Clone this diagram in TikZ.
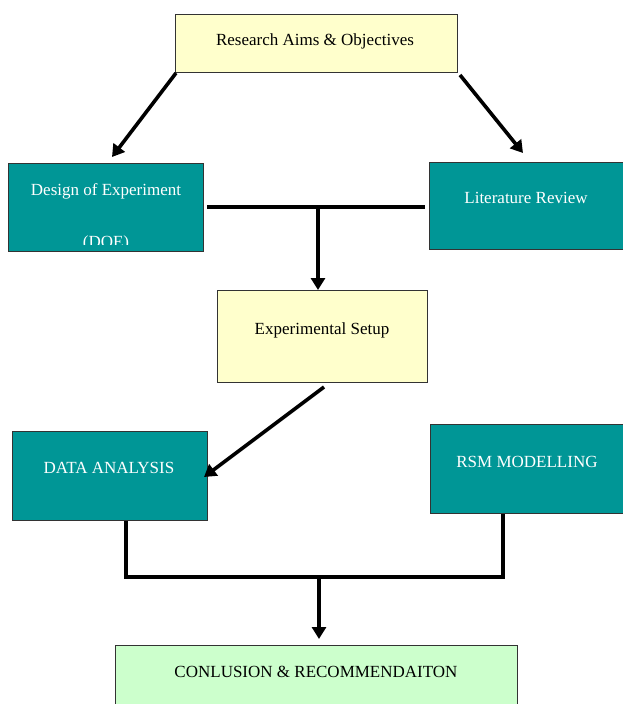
\documentclass[tikz,border=0pt]{standalone}
\usepackage{fontspec}
\setmainfont{Liberation Serif}
\usetikzlibrary{arrows.meta}
\definecolor{tealbox}{RGB}{0,150,150}
\definecolor{paleyellow}{RGB}{255,255,204}
\definecolor{palegreen}{RGB}{204,255,204}
\begin{document}
\begin{tikzpicture}[x=1pt,y=-1pt,
  box/.style={draw=black!80, line width=1.3pt, inner sep=0pt, anchor=north west},
  ybox/.style={box, fill=paleyellow},
  tbox/.style={box, fill=tealbox},
  gbox/.style={box, fill=palegreen},
  lbl/.style={font=\fontsize{17}{20}\selectfont, text height=11.5pt, text depth=0pt, inner sep=0pt},
  wlbl/.style={lbl, text=white},
  conn/.style={line width=3.6pt, black},
  arr/.style={conn, -{Triangle[length=12pt,width=14pt]}}]
\useasboundingbox (0,0) rectangle (623,704);
\clip (0,0) rectangle (623,704);
% boxes
\node[ybox, minimum width=282pt, minimum height=58pt] (aims) at (175,14) {};
\node[tbox, minimum width=195pt, minimum height=88pt] (doe) at (8,163) {};
\node[tbox, minimum width=210pt, minimum height=87pt] (lit) at (429,162) {};
\node[ybox, minimum width=210pt, minimum height=92pt] (exp) at (217,290) {};
\node[tbox, minimum width=195pt, minimum height=89pt] (da) at (12,431) {};
\node[tbox, minimum width=210pt, minimum height=89pt] (rsm) at (430,424) {};
\node[gbox, minimum width=402pt, minimum height=80pt] (conc) at (115,645) {};
% labels
\node[lbl] (taims) at (315,40) {Research Aims \& Objectives};
\node[wlbl] (tdoe) at (106,189.5) {Design of Experiment};
\begin{scope}
  \clip (9,164) rectangle (202,244);
  \node[wlbl] (tdoe2) at (106,241.5) {(DOE)};
\end{scope}
\node[wlbl] (tlit) at (526,198) {Literature Review};
\node[lbl] (texp) at (322,329) {Experimental Setup};
\node[wlbl] (tda) at (109,468) {DATA ANALYSIS};
\node[wlbl] (trsm) at (527,462) {RSM MODELLING};
\node[lbl] (tconc) at (316,672) {CONLUSION \& RECOMMENDAITON};
% connector points
\coordinate (a1) at (176,73);
\coordinate (a1t) at (112,157);
\coordinate (a2) at (460,75);
\coordinate (a2t) at (523,153);
\coordinate (hl) at (207,207);
\coordinate (hr) at (425,207);
\coordinate (hm) at (318,207);
\coordinate (e1) at (324,387);
\coordinate (e1t) at (204,477);
\coordinate (bl) at (126,577);
\coordinate (br) at (503,577);
\coordinate (bm) at (319,577);
\coordinate (bmt) at (319,639);
% connectors
\draw[arr] (a1) -- (a1t);
\draw[arr] (a2) -- (a2t);
\draw[conn] (hl) -- (hr);
\draw[arr] (hm) -- (hm |- exp.north);
\draw[arr] (e1) -- (e1t);
\draw[conn] (da.south -| bl) -- (bl) -- (br) -- (rsm.south -| br);
\draw[arr] (bm) -- (bmt);
\end{tikzpicture}
\end{document}
